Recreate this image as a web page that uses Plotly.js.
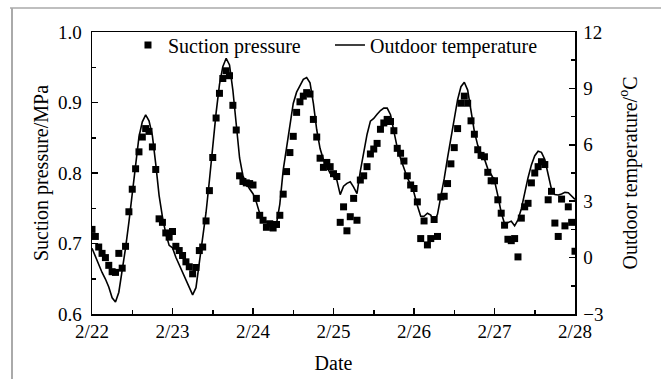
<!DOCTYPE html>
<html>
<head>
<meta charset="utf-8">
<script src="https://cdn.plot.ly/plotly-3.0.1.min.js"></script>
<style>html,body{margin:0;padding:0;background:#fff;}#chart{width:661px;height:379px;}</style>
</head>
<body>
<div id="chart"></div>
<script>
// hours since 2/22 00:00
const hours = [0,1,2,3,4,5,6,7,8,9,10,11,12,13,14,15,16,17,18,19,20,21,22,23,
24,25,26,27,28,29,30,31,32,33,34,35,36,37,38,39,40,41,42,43,44,45,46,47,
48,49,50,51,52,53,54,55,56,57,58,59,60,61,62,63,64,65,66,67,68,69,70,71,
72,73,74,75,76,77,78,79,80,81,82,83,84,85,86,87,88,89,90,91,92,93,94,95,
96,97,98,99,100,101,102,103,104,105,106,107,108,109,110,111,112,113,114,115,116,117,118,119,
120,121,122,123,124,125,126,127,128,129,130,131,132,133,134,135,136,137,138,139,140,141,142,143,144];

const suctionPressure = [0.720,0.710,0.695,0.686,0.680,0.669,0.660,0.659,0.686,0.665,0.696,0.745,
0.777,0.806,0.830,0.851,0.863,0.859,0.837,0.805,0.735,0.730,0.715,0.709,
0.717,0.696,0.690,0.683,0.674,0.667,0.657,0.666,0.690,0.695,0.732,0.775,
0.822,0.878,0.913,0.934,0.945,0.938,0.896,0.861,0.796,0.788,0.786,0.785,
0.783,0.764,0.740,0.733,0.723,0.728,0.722,0.727,0.740,0.770,0.802,0.829,
0.852,0.886,0.901,0.909,0.914,0.912,0.876,0.851,0.821,0.808,0.815,0.809,
0.799,0.795,0.730,0.752,0.718,0.738,0.764,0.733,0.790,0.796,0.809,0.827,
0.834,0.842,0.862,0.871,0.876,0.873,0.860,0.835,0.828,0.817,0.796,0.783,
0.778,0.759,0.707,0.732,0.698,0.707,0.734,0.710,0.766,0.767,0.785,0.813,
0.836,0.863,0.899,0.909,0.899,0.874,0.855,0.833,0.825,0.823,0.801,0.789,
0.789,0.762,0.743,0.726,0.706,0.704,0.707,0.681,0.736,0.752,0.757,0.786,
0.800,0.809,0.816,0.812,0.762,0.774,0.729,0.710,0.763,0.725,0.752,0.730,0.689];

const outdoorTemp = [0.5,0.05,-0.38,-0.79,-1.14,-1.56,-2.14,-2.36,-1.84,-0.72,0.5,1.89,
3.42,5.02,6.42,7.22,7.59,7.28,6.49,4.99,3.31,2.17,1.28,0.65,
0.52,0.02,-0.40,-0.76,-1.16,-1.58,-1.98,-1.6,-0.3,0.9,2.4,4.1,
5.95,7.7,9.2,10.15,10.6,10.25,8.9,7.2,5.3,4.35,3.95,3.65,
3.4,2.95,2.35,2.0,1.9,1.78,1.7,1.8,2.85,4.65,5.85,7.1,
8.2,8.8,9.18,9.48,9.58,9.3,8.2,6.8,5.8,5.2,4.85,4.48,
4.3,4.12,3.35,3.8,3.95,4.03,3.75,3.4,4.6,5.65,6.55,7.26,
7.4,7.62,7.82,7.95,7.95,7.6,6.8,5.85,5.27,4.75,4.25,3.89,
3.45,2.77,2.2,2.2,2.36,2.26,1.9,2.3,3.2,4.2,5.3,6.35,
7.3,8.4,9.09,9.33,8.91,7.7,6.7,5.97,5.55,5.25,4.72,4.42,
4.1,3.3,2.4,1.8,1.86,1.93,1.69,2.0,2.6,3.45,4.25,4.93,
5.42,5.66,5.6,5.22,4.32,3.62,3.35,3.33,3.38,3.47,3.45,3.28,3.1];

const dayTickVals = [0,24,48,72,96,120,144];
const dayTickText = ['2/22','2/23','2/24','2/25','2/26','2/27','2/28'];

const FONT = 'Liberation Serif, Times New Roman, serif';
const fs = 19;
const lfs = 20;

const traces = [
  {
    x: hours, y: suctionPressure, name: 'Suction pressure',
    type: 'scatter', mode: 'markers',
    marker: {symbol: 'square', size: 7, color: '#000'},
    xaxis: 'x', yaxis: 'y', legend: 'legend'
  },
  {
    x: hours, y: outdoorTemp, name: 'Outdoor temperature',
    type: 'scatter', mode: 'lines',
    line: {color: '#000', width: 1.6},
    xaxis: 'x', yaxis: 'y2', legend: 'legend2'
  }
];

const axisCommon = {
  showline: true, linecolor: '#000', linewidth: 1.5,
  ticks: 'inside', ticklen: 6, tickwidth: 1.5, tickcolor: '#000',
  showgrid: false, zeroline: false,
  tickfont: {family: FONT, size: fs, color: '#000'}
};

const legendCommon = {
  orientation: 'h', xanchor: 'left', yanchor: 'top', y: 1.023,
  bgcolor: 'rgba(0,0,0,0)', font: {family: FONT, size: lfs, color: '#000'}
};

const layout = {
  width: 661, height: 379,
  margin: {l: 92, r: 86, t: 32, b: 65},
  paper_bgcolor: '#fff', plot_bgcolor: '#fff',
  font: {family: FONT, size: fs, color: '#000'},
  showlegend: true,
  legend: Object.assign({}, legendCommon, {x: 0.0745}),
  legend2: Object.assign({}, legendCommon, {x: 0.4927}),
  xaxis: Object.assign({}, axisCommon, {
    range: [0, 144], tickmode: 'array', tickvals: dayTickVals, ticktext: dayTickText,
    mirror: true,
    minor: {tickmode: 'linear', tick0: 0, dtick: 12, ticks: 'inside', ticklen: 4, tickwidth: 1.5, tickcolor: '#000'},
    title: {text: 'Date', font: {family: FONT, size: lfs, color: '#000'}, standoff: 14}
  }),
  yaxis: Object.assign({}, axisCommon, {
    range: [0.6, 1.0], tickmode: 'linear', tick0: 0.6, dtick: 0.1, tickformat: '.1f',
    ticklabelstandoff: 5,
    minor: {tickmode: 'linear', tick0: 0.6, dtick: 0.05, ticks: 'inside', ticklen: 4, tickwidth: 1.5, tickcolor: '#000'},
    title: {text: 'Suction pressure/MPa', font: {family: FONT, size: lfs, color: '#000'}, standoff: 4}
  }),
  yaxis2: Object.assign({}, axisCommon, {
    range: [-3, 12], tickmode: 'linear', tick0: -3, dtick: 3,
    overlaying: 'y', side: 'right', ticklabelstandoff: 3,
    minor: {tickmode: 'linear', tick0: -3, dtick: 1.5, ticks: 'inside', ticklen: 4, tickwidth: 1.5, tickcolor: '#000'},
    title: {text: 'Outdoor temperature/<sup>o</sup>C', font: {family: FONT, size: lfs, color: '#000'}, standoff: 20}
  }),
  shapes: [
    {type: 'line', xref: 'paper', yref: 'paper', x0: (10-92)/483, x1: (661-92)/483, y0: (314-8)/282, y1: (314-8)/282, line: {color: '#aaaaaa', width: 1.5}},
    {type: 'line', xref: 'paper', yref: 'paper', x0: (12-92)/483, x1: (12-92)/483, y0: (314-8)/282, y1: (314-379)/282, line: {color: '#aaaaaa', width: 2}}
  ]
};

Plotly.newPlot('chart', traces, layout, {displayModeBar: false, staticPlot: true});
</script>
</body>
</html>
